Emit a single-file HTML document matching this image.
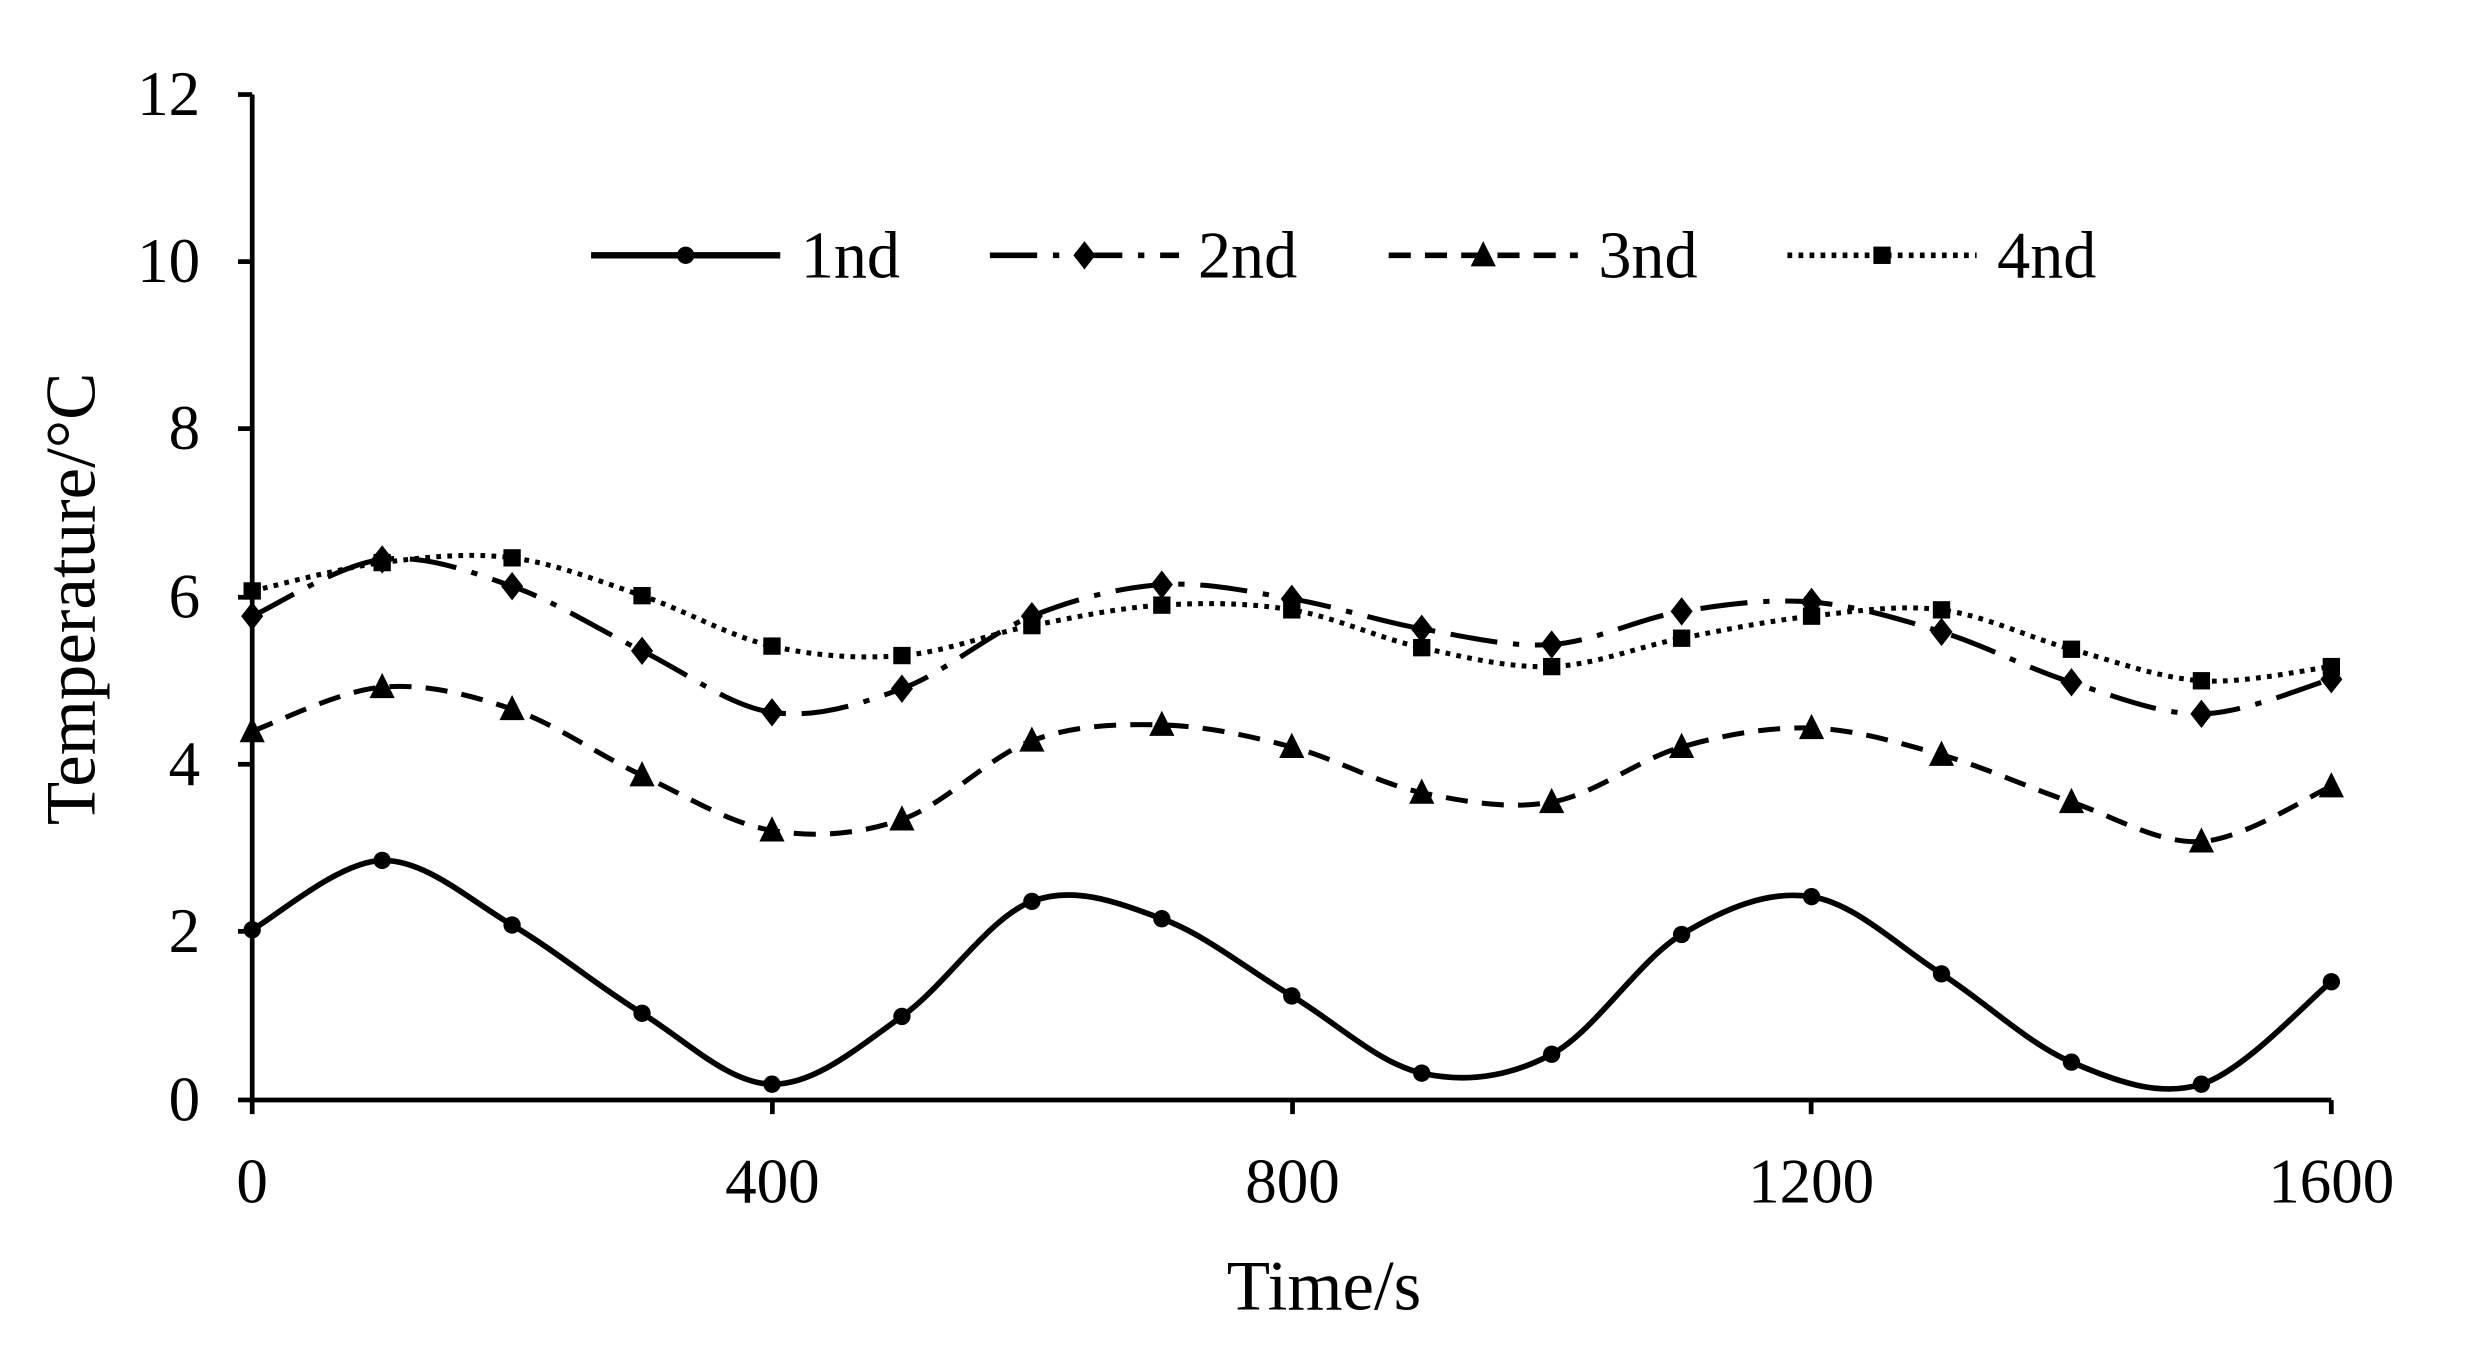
<!DOCTYPE html>
<html><head><meta charset="utf-8"><style>
html,body{margin:0;padding:0;background:#fff;}
svg{display:block;}
text{font-family:"Liberation Serif",serif;fill:#000;}
</style></head><body>
<svg id="s" width="2470" height="1371" viewBox="0 0 1567 870" preserveAspectRatio="none" xmlns="http://www.w3.org/2000/svg">
<g stroke="#000" stroke-width="3" fill="none">
<line x1="160" y1="60" x2="160" y2="698"/>
<line x1="160" y1="698" x2="1479" y2="698"/>
<line x1="151" y1="60" x2="160" y2="60"/><line x1="151" y1="166" x2="160" y2="166"/>
<line x1="151" y1="272" x2="160" y2="272"/><line x1="151" y1="379" x2="160" y2="379"/>
<line x1="151" y1="485" x2="160" y2="485"/><line x1="151" y1="591" x2="160" y2="591"/>
<line x1="151" y1="698" x2="160" y2="698"/>
<line x1="160" y1="698" x2="160" y2="707"/><line x1="490" y1="698" x2="490" y2="707"/>
<line x1="820" y1="698" x2="820" y2="707"/><line x1="1149" y1="698" x2="1149" y2="707"/>
<line x1="1479" y1="698" x2="1479" y2="707"/>
</g>
<g font-size="40" text-anchor="end">
<text x="127" y="73">12</text><text x="127" y="179">10</text><text x="127" y="285">8</text>
<text x="127" y="392">6</text><text x="127" y="498">4</text><text x="127" y="604">2</text><text x="127" y="711">0</text>
</g>
<g font-size="40" text-anchor="middle">
<text x="160" y="763">0</text><text x="490" y="763">400</text><text x="820" y="763">800</text>
<text x="1149" y="763">1200</text><text x="1479" y="763">1600</text>
<text x="840" y="831" font-size="45">Time/s</text>
<text transform="translate(60,380) rotate(-90)" font-size="45">Temperature/°C</text>
</g>
<g id="series"></g>
<g font-size="42">
<text x="508" y="176">1nd</text><text x="760" y="176">2nd</text>
<text x="1014" y="176">3nd</text><text x="1267" y="176">4nd</text>
</g>
</svg>
<script>
var X=function(i){return 160+i*82.44;};
var data=[
[590,546,587,643,688,645,572,583,632,681,669,593,569,618,674,688,623],
[391,355,372,413,452,437,391,371,380,399,409,388,382,401,433,453,431],
[464,436,450,492,527,520,470,460,474,503,509,474,462,479,509,534,499],
[375,357,354,378,410,416,397,384,387,411,423,405,391,387,412,432,423]];
var dash=["","30,10,4,10","14,9","3,4"];
var mk=["c","d","t","s"];
var g=document.getElementById("series"),ns="http://www.w3.org/2000/svg";
function el(n,a){var e=document.createElementNS(ns,n);for(var k in a)e.setAttribute(k,a[k]);g.appendChild(e);return e;}
function marker(t,x,y){
 if(t=="c")el("circle",{cx:x,cy:y,r:5.5,fill:"#000"});
 if(t=="d")el("polygon",{points:(x)+","+(y-9)+" "+(x+7)+","+y+" "+x+","+(y+9)+" "+(x-7)+","+y,fill:"#000"});
 if(t=="t")el("polygon",{points:x+","+(y-9)+" "+(x+8)+","+(y+7)+" "+(x-8)+","+(y+7),fill:"#000"});
 if(t=="s")el("rect",{x:x-5.5,y:y-5.5,width:11,height:11,fill:"#000"});
}
data.forEach(function(d,k){
 var p=d.map(function(y,i){return [X(i),y];});
 var s="M"+p[0][0]+","+p[0][1];
 for(var i=0;i<p.length-1;i++){
  var p0=p[i-1]||p[i],p1=p[i],p2=p[i+1],p3=p[i+2]||p2;
  var c1=[p1[0]+(p2[0]-p0[0])/6,p1[1]+(p2[1]-p0[1])/6],c2=[p2[0]-(p3[0]-p1[0])/6,p2[1]-(p3[1]-p1[1])/6];
  s+=" C"+c1+" "+c2+" "+p2;
 }
 el("path",{d:s,fill:"none",stroke:"#000","stroke-width":k==0?3.6:3.2,"stroke-dasharray":dash[k]});
 p.forEach(function(q){marker(mk[k],q[0],q[1]);});
 var lx=375+k*253;
 el("line",{x1:lx,y1:162,x2:lx+120,y2:162,stroke:"#000","stroke-width":k==0?4:3.6,"stroke-dasharray":dash[k]});
 marker(mk[k],lx+60,162);
});
</script>
</body></html>
